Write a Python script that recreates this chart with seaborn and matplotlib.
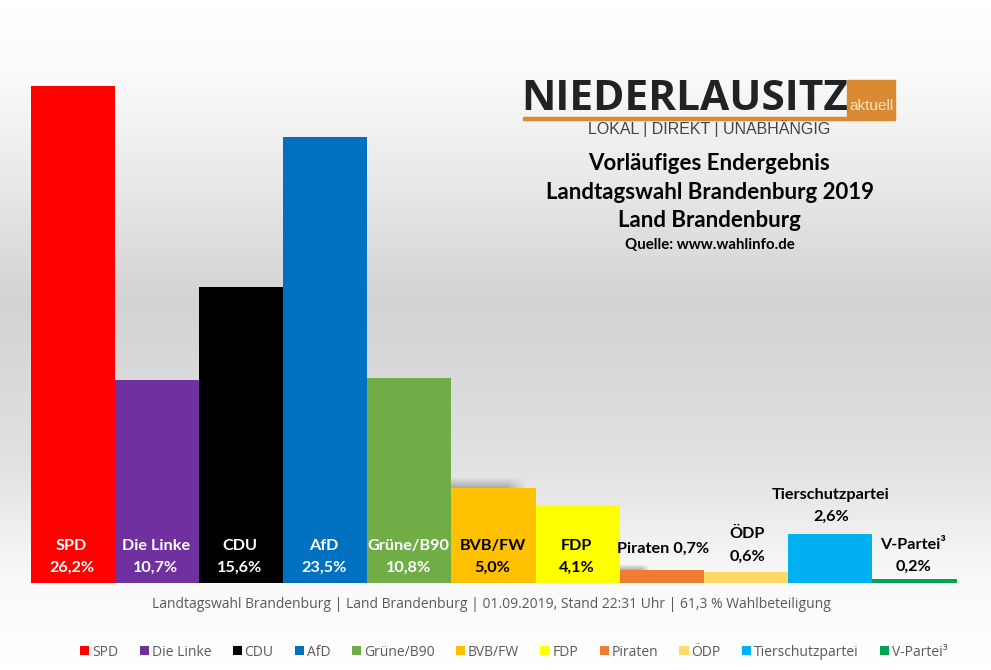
"""Landtagswahl Brandenburg 2019, preliminary result as a bar chart."""

import matplotlib

matplotlib.use("Agg")

import matplotlib.pyplot as plt
import numpy as np
import pandas as pd
import seaborn as sns
from matplotlib.colors import LinearSegmentedColormap
from matplotlib.patches import Patch

parties = ["SPD", "Die Linke", "CDU", "AfD", "Grüne/B90", "BVB/FW", "FDP", "Piraten", "ÖDP", "Tierschutzpartei", "V-Partei³"]
shares = [26.2, 10.7, 15.6, 23.5, 10.8, 5.0, 4.1, 0.7, 0.6, 2.6, 0.2]
share_labels = ["26,2%", "10,7%", "15,6%", "23,5%", "10,8%", "5,0%", "4,1%", "0,7%", "0,6%", "2,6%", "0,2%"]
colors = ["#ff0000", "#7030a0", "#000000", "#0070c0", "#70ad47", "#ffc000", "#ffff00", "#ed7d31", "#ffd966", "#00b0f0", "#00a650"]

title_lines = ["Vorläufiges Endergebnis", "Landtagswahl Brandenburg 2019", "Land Brandenburg"]
source = "Quelle: www.wahlinfo.de"
footer = "Landtagswahl Brandenburg | Land Brandenburg | 01.09.2019, Stand 22:31 Uhr | 61,3 % Wahlbeteiligung"

W, H = 991, 670
plt.rcParams["font.family"] = ["Lato", "DejaVu Sans"]


def px_x(x):
    return x / W


def px_y(y):
    return 1 - y / H


def add_shadow(axis, x0, x1, y0, y1):
    # fades in towards the bar below and out towards the right end
    ny, nx = 12, 40
    alpha = np.outer(np.linspace(0, 0.65, ny), np.clip((1 - np.linspace(0, 1, nx)) * 4, 0, 1))
    rgba = np.zeros((ny, nx, 4))
    rgba[..., :3] = 0.55
    rgba[..., 3] = alpha
    axis.imshow(rgba, aspect="auto", extent=(x0, x1, y1, y0), zorder=2)


fig = plt.figure(figsize=(W / 100, H / 100), dpi=100)

# page background: white at the top, grey in the middle, white again at the bottom
bg_ax = fig.add_axes([0, 0, 1, 1], zorder=0)
bg_cmap = LinearSegmentedColormap.from_list(
    "page",
    [(0.0, "#ffffff"), (0.1, "#fbfbfb"), (0.25, "#ebebeb"), (0.45, "#d3d3d3"), (0.7, "#e2e2e2"), (0.87, "#fafafa"), (1.0, "#ffffff")],
)
bg_ax.imshow(np.linspace(0, 1, H).reshape(-1, 1), aspect="auto", cmap=bg_cmap, vmin=0, vmax=1, extent=(0, W, H, 0))
add_shadow(bg_ax, 451, 527, 477, 488)
add_shadow(bg_ax, 620, 650, 564, 570)
bg_ax.set_xlim(0, W)
bg_ax.set_ylim(H, 0)
bg_ax.axis("off")

# bars: 84.2 px per party, 18.97 px per percentage point, baseline at y=583
ax = fig.add_axes([px_x(30.5), px_y(583), (956.5 - 30.5) / W, 497 / H], zorder=1)
ax.patch.set_alpha(0)
df = pd.DataFrame({"party": parties, "share": shares})
sns.barplot(data=df, x="party", y="share", hue="party", palette=colors, order=parties, hue_order=parties, width=1.0, dodge=False, legend=False, saturation=1, ax=ax)
ax.set_xlim(-0.5, len(parties) - 0.5)
ax.set_ylim(0, 26.2)
ax.axis("off")

# labels: white/black inside tall bars, above the small ones
LABEL_SIZE = 11.7
outside = {"ÖDP": (747, 534, 557), "Tierschutzpartei": (831, 495, 517), "V-Partei³": (913, 545, 567)}
for i, (party, label) in enumerate(zip(parties, share_labels)):
    color = "white" if i < 5 else "black"
    if party == "Piraten":
        fig.text(px_x(663), px_y(549), f"{party} {label}", color=color, ha="center", va="center", fontsize=LABEL_SIZE, fontweight="bold", zorder=5)
        continue
    if party in outside:
        x_c, y_name, y_val = outside[party]
    else:
        x_c, y_name, y_val = ax.transData.transform((i, 0))[0] - 1, 546, 568
    fig.text(px_x(x_c), px_y(y_name), party, color=color, ha="center", va="center", fontsize=LABEL_SIZE, fontweight="bold", zorder=5)
    fig.text(px_x(x_c), px_y(y_val), label, color=color, ha="center", va="center", fontsize=LABEL_SIZE, fontweight="bold", zorder=5)

# header
fig.text(px_x(684.5), px_y(99), "NIEDERLAUSITZ", color="#222222", ha="center", va="center", fontsize=30.5, fontweight="bold", family="Open Sans", zorder=5)
fig.add_artist(plt.Rectangle((px_x(523), px_y(119.5)), (895 - 523) / W, 3 / H, color="#d98a33", transform=fig.transFigure, zorder=4))
fig.add_artist(plt.Rectangle((px_x(847), px_y(119)), (895 - 847) / W, 39 / H, color="#d98a33", transform=fig.transFigure, zorder=4))
fig.text(px_x(871), px_y(106), "aktuell", color="#f5e3c8", ha="center", va="center", fontsize=11, family="Liberation Sans", zorder=5)
fig.text(px_x(709), px_y(129), "LOKAL | DIREKT | UNABHÄNGIG", color="#444444", ha="center", va="center", fontsize=11.5, family="Liberation Sans", zorder=5)
for y, line in zip((164, 192, 220), title_lines):
    fig.text(px_x(709.5), px_y(y), line, color="black", ha="center", va="center", fontsize=16, fontweight="bold", zorder=5)
fig.text(px_x(710), px_y(245), source, color="black", ha="center", va="center", fontsize=10.8, fontweight="bold", zorder=5)

fig.text(px_x(491.5), px_y(605), footer, color="#595959", ha="center", va="center", fontsize=10, family="Open Sans", zorder=5)

handles = [Patch(facecolor=c, edgecolor="none", label=p) for p, c in zip(parties, colors)]
fig.legend(
    handles=handles,
    loc="center",
    bbox_to_anchor=(px_x(514), px_y(652)),
    ncol=len(parties),
    frameon=False,
    prop={"family": "Open Sans", "size": 10},
    handlelength=0.65,
    handleheight=0.65,
    handletextpad=0.2,
    columnspacing=1.55,
    labelcolor="#595959",
)

fig.savefig("out.png", dpi=100)
